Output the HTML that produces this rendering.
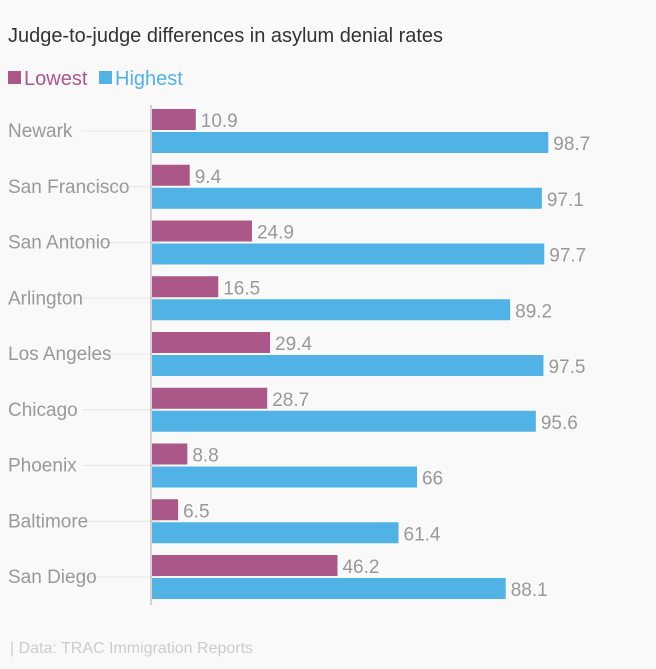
<!DOCTYPE html>
<html><head><meta charset="utf-8"><style>
body{margin:0;background:#f9f9f9;width:656px;height:669px;overflow:hidden;font-family:"Liberation Sans",sans-serif}
</style></head><body>
<svg width="656" height="669" id="c" style="position:absolute;left:0;top:0">
<text x="8" y="42" font-size="20" fill="#333" textLength="435" lengthAdjust="spacingAndGlyphs">Judge-to-judge differences in asylum denial rates</text>
<rect x="8" y="71" width="13" height="13" fill="#ab5787"/>
<text x="24" y="85" font-size="20" fill="#ab5787">Lowest</text>
<rect x="99" y="71" width="13" height="13" fill="#51b2e5"/>
<text x="115" y="85" font-size="20" fill="#51b2e5">Highest</text>
<g id="bars"></g>
<line x1="151" y1="105" x2="151" y2="605" stroke="#aaa" stroke-width="1"/>
<text x="10" y="653" font-size="16" fill="#ccc">| Data: TRAC Immigration Reports</text>
</svg>
<script>
const categories=["Newark","San Francisco","San Antonio","Arlington","Los Angeles","Chicago","Phoenix","Baltimore","San Diego"];
const lowest=[10.9,9.4,24.9,16.5,29.4,28.7,8.8,6.5,46.2];
const highest=[98.7,97.1,97.7,89.2,97.5,95.6,66,61.4,88.1];
const lowestLabels=["10.9","9.4","24.9","16.5","29.4","28.7","8.8","6.5","46.2"];
const highestLabels=["98.7","97.1","97.7","89.2","97.5","95.6","66","61.4","88.1"];
const NS="http://www.w3.org/2000/svg";
const g=document.getElementById('bars');
const x=v=>v*4.015;
const y=i=>109+i*55.75;
function mk(t,a){const e=document.createElementNS(NS,t);for(const k in a)e.setAttribute(k,a[k]);g.appendChild(e);return e;}
categories.forEach((c,i)=>{
  const y0=y(i);
  const gl=mk('line',{x1:82,x2:160,y1:y0+22,y2:y0+22,stroke:'#e6e6e6'});
  
  
  const lab=mk('text',{x:8,y:y0+28,'font-size':19,fill:'#999'});lab.textContent=c;
  
  
  const b1=mk('rect',{x:152,y:y0,width:x(lowest[i]),height:21,fill:'#ab5787'});
  
  
  const t1=mk('text',{x:152+x(lowest[i])+5,y:y0+18,'font-size':19,fill:'#999'});t1.textContent=lowestLabels[i];
  
  
  const b2=mk('rect',{x:152,y:y0+23,width:x(highest[i]),height:21,fill:'#51b2e5'});
  
  
  const t2=mk('text',{x:152+x(highest[i])+5,y:y0+41,'font-size':19,fill:'#999'});t2.textContent=highestLabels[i];
  
  
});
</script>
</body></html>
